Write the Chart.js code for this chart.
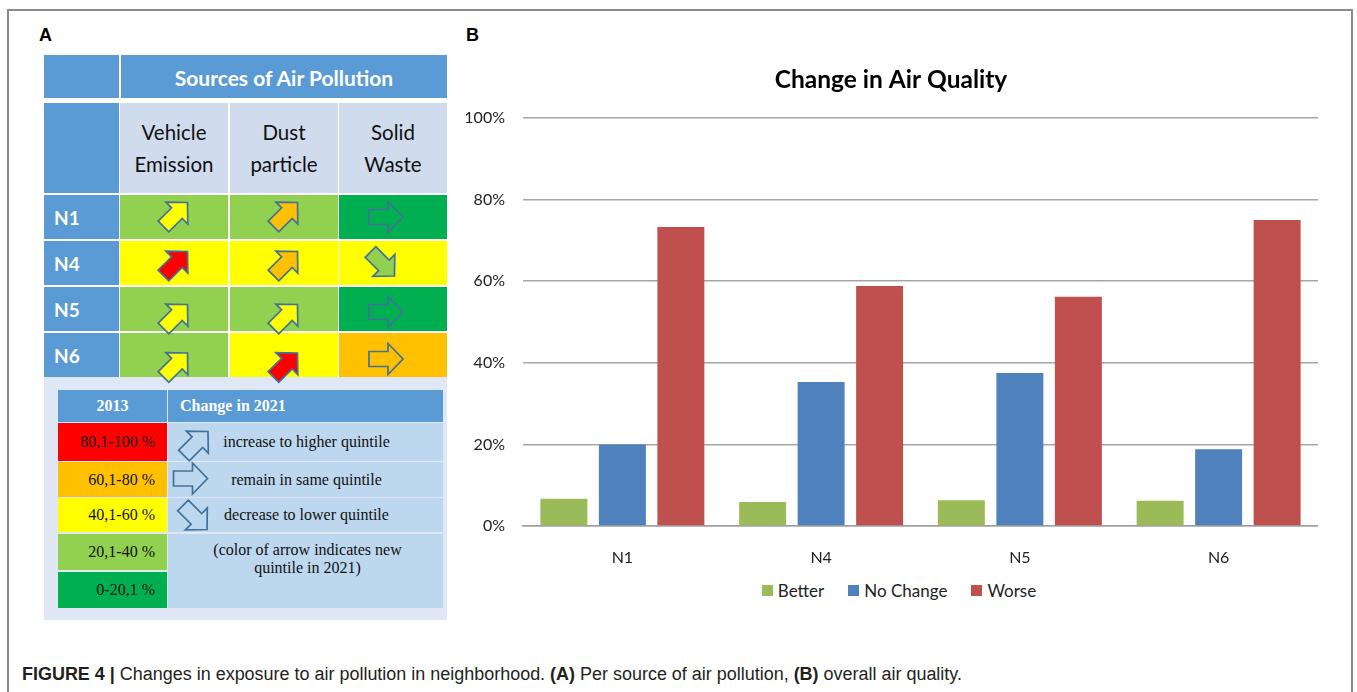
<!DOCTYPE html>
<html>
<head>
<meta charset="utf-8">
<title>Changes in exposure to air pollution in neighborhood</title>
<script src="https://cdn.jsdelivr.net/npm/chart.js@4.4.0/dist/chart.umd.min.js"></script>
<style>
  html, body { margin: 0; padding: 0; background: #fff; }
  body { width: 1357px; height: 692px; position: relative; overflow: hidden; font-family: Lato, 'Liberation Sans', sans-serif; }
  .frame { position: absolute; left: 7px; top: 9px; width: 1346px; height: 720px; border: 2px solid #8c8c8c; box-sizing: border-box; }
  .panel-label { position: absolute; font: bold 18px 'Liberation Sans', Arial, sans-serif; color: #000; }
  .cell { position: absolute; box-sizing: border-box; display: flex; align-items: center; }
  .serif { font-family: 'Liberation Serif', 'Times New Roman', serif; }
  #arrows { position: absolute; left: 0; top: 0; pointer-events: none; }
  #chartB { position: absolute; left: 464px; top: 50px; }
  #legendB { position: absolute; left: 599px; top: 578px; width: 600px; height: 24px; display: flex; justify-content: center; align-items: center; font: 17px Lato, sans-serif; color: #222; gap: 24px; }
  #legendB .item { display: flex; align-items: center; }
  #legendB .box { width: 11px; height: 11px; margin-right: 5px; }
  .caption { position: absolute; left: 22px; top: 664px; font: 18px 'Liberation Sans Narrow', 'Liberation Sans', Arial, sans-serif; color: #231f20; white-space: nowrap; transform-origin: 0 50%; }
  .caption b { font-weight: bold; }
</style>
</head>
<body>
<div class="frame"></div>
<div class="panel-label" style="left:39px;top:25px;">A</div>
<div class="panel-label" style="left:466px;top:25px;">B</div>
<div id="tableA"></div>
<svg id="arrows" width="1357" height="692"></svg>
<canvas id="chartB" width="854" height="520"></canvas>
<div id="legendB"></div>
<div class="caption" id="caption"><b>FIGURE 4 |</b> Changes in exposure to air pollution in neighborhood. <b>(A)</b> Per source of air pollution, <b>(B)</b> overall air quality.</div>

<script>
// ---------- Panel A: quintiles per source and neighborhood ----------
const sourceNames = [['Vehicle', 'Emission'], ['Dust', 'particle'], ['Solid', 'Waste']];
const neighborhoods = ['N1', 'N4', 'N5', 'N6'];
// quintile index 1..5 (1 = lowest share, 5 = highest share)
const quintile2013 = [
  [2, 2, 1],
  [3, 3, 3],
  [2, 2, 1],
  [2, 3, 4]
];
const quintile2021 = [
  [3, 4, 1],
  [5, 4, 2],
  [3, 3, 1],
  [3, 5, 4]
];
const quintileLabels = ['0-20,1 %', '20,1-40 %', '40,1-60 %', '60,1-80 %', '80,1-100 %'];
const changeKinds = ['up', 'same', 'down'];
const changeTexts = ['increase to higher quintile', 'remain in same quintile', 'decrease to lower quintile'];
const changeNote = ['(color of arrow indicates new', 'quintile in 2021)'];

// ---------- Panel B: overall change in air quality ----------
const places = ['N1', 'N4', 'N5', 'N6'];
const better = [6.7, 5.9, 6.3, 6.2];
const noChange = [20.0, 35.3, 37.5, 18.8];
const worse = [73.3, 58.8, 56.2, 75.0];
const yTickValues = [0, 20, 40, 60, 80, 100];

// ---------- styling ----------
const quintileColors = ['#00b050', '#92d050', '#ffff00', '#ffc000', '#ff0000'];
const headBlue = '#5b9bd5';
const paleBlue = '#d0dcee';
const noteBlue = '#bdd7ee';
const arrowEdge = '#41719c';

const tableA = document.getElementById('tableA');
function cell(x, y, w, h, bg, html, css, serif) {
  const d = document.createElement('div');
  d.className = serif ? 'cell serif' : 'cell';
  d.style.cssText = `left:${x}px;top:${y}px;width:${w}px;height:${h}px;background:${bg};` + (css || '');
  d.innerHTML = html || '';
  tableA.appendChild(d);
  return d;
}

// grid geometry of the source table
const colX = [120, 230, 339];
const colW = [108, 108, 108];
const rowY = [195, 241, 287, 333];
const rowH = [44, 44, 44, 45];

// header rows
cell(44, 55, 75, 43, headBlue);
cell(121, 55, 326, 43, headBlue, 'Sources of Air Pollution',
  'justify-content:center;color:#fff;font-weight:bold;font-size:21px;padding-top:2px;');
cell(44, 103, 75, 90, headBlue);
sourceNames.forEach((lines, j) => {
  cell(colX[j], 103, colW[j], 90, paleBlue, lines.join('<br>'),
    'justify-content:center;text-align:center;color:#111;font-size:20.5px;line-height:32px;');
});

// neighborhood rows
neighborhoods.forEach((n, i) => {
  cell(44, rowY[i], 75, rowH[i], headBlue, n,
    'padding-left:10px;color:#fff;font-weight:bold;font-size:19px;');
  quintile2013[i].forEach((q, j) => {
    cell(colX[j], rowY[i], colW[j], rowH[i], quintileColors[q - 1]);
  });
});

// key below the table
cell(44, 377, 403, 243, '#dfe8f4');
cell(58, 390, 109, 32, headBlue, '2013',
  'justify-content:center;color:#fff;font-weight:bold;font-size:16px;', true);
cell(168, 390, 275, 32, headBlue, 'Change in 2021',
  'padding-left:12px;color:#fff;font-weight:bold;font-size:16px;', true);
const keyRowY = [423, 462, 498, 534, 572];
const keyRowH = [38, 35, 34, 36, 36];
for (let k = 0; k < 5; k++) {
  const q = 5 - k;
  cell(58, keyRowY[k], 109, keyRowH[k], quintileColors[q - 1], quintileLabels[q - 1],
    'justify-content:flex-end;padding-right:12px;color:#111;font-size:16px;', true);
}
const keyTextY = [423, 462, 498];
const keyTextH = [38, 35, 34];
changeTexts.forEach((t, k) => {
  cell(168, keyTextY[k], 275, keyTextH[k], noteBlue, t,
    'justify-content:center;padding-left:2px;color:#111;font-size:16px;', true);
});
cell(168, 534, 275, 74, noteBlue, changeNote.join('<br>'),
  'justify-content:center;align-items:flex-start;padding-top:7px;padding-left:4px;text-align:center;color:#111;font-size:16px;line-height:18px;', true);

// block arrows
const svg = document.getElementById('arrows');
function arrowPath(kind, cx, cy, fill) {
  const base = [[-17, -7.5], [2, -7.5], [2, -15.5], [17, 0], [2, 15.5], [2, 7.5], [-17, 7.5]];
  const ang = kind === 'up' ? -Math.PI / 4 : kind === 'down' ? Math.PI / 4 : 0;
  const c = Math.cos(ang), s = Math.sin(ang);
  const pts = base.map(([x, y]) => [x * c - y * s, x * s + y * c]);
  const xs = pts.map(p => p[0]), ys = pts.map(p => p[1]);
  const mx = (Math.min(...xs) + Math.max(...xs)) / 2;
  const my = (Math.min(...ys) + Math.max(...ys)) / 2;
  const d = pts.map(([x, y]) => `${(x - mx + cx).toFixed(1)},${(y - my + cy).toFixed(1)}`).join(' ');
  const poly = document.createElementNS('http://www.w3.org/2000/svg', 'polygon');
  poly.setAttribute('points', d);
  poly.setAttribute('fill', fill);
  poly.setAttribute('stroke', arrowEdge);
  poly.setAttribute('stroke-width', '1.7');
  poly.setAttribute('stroke-linejoin', 'miter');
  svg.appendChild(poly);
}
const upShift = [0, 3, 10, 12];
const sideShift = [0, -1.5, 3, 3.5];
neighborhoods.forEach((n, i) => {
  const cy = rowY[i] + rowH[i] / 2;
  quintile2013[i].forEach((q0, j) => {
    const q1 = quintile2021[i][j];
    const kind = q1 > q0 ? 'up' : q1 < q0 ? 'down' : 'same';
    const cx = colX[j] + colW[j] / 2;
    if (kind === 'up') arrowPath(kind, cx - 1, cy + upShift[i], quintileColors[q1 - 1]);
    else if (kind === 'same') arrowPath(kind, cx - 7, cy + sideShift[i], quintileColors[q1 - 1]);
    else arrowPath(kind, cx - 13, cy + sideShift[i], quintileColors[q1 - 1]);
  });
});
const keyArrowPos = [[193.5, 446], [190.5, 478.5], [192.5, 515]];
changeKinds.forEach((k, idx) => arrowPath(k, keyArrowPos[idx][0], keyArrowPos[idx][1], noteBlue));

// ---------- Panel B chart ----------
const tickFont = { family: 'Lato', size: 16 };
const chart = new Chart(document.getElementById('chartB'), {
  type: 'bar',
  data: {
    labels: places,
    datasets: [
      { label: 'Better', data: better, backgroundColor: '#9bbb59' },
      { label: 'No Change', data: noChange, backgroundColor: '#4f81bd' },
      { label: 'Worse', data: worse, backgroundColor: '#c0504d' }
    ]
  },
  options: {
    responsive: false,
    animation: false,
    devicePixelRatio: 1,
    layout: { padding: { top: 0, left: 0, right: 0, bottom: 2 } },
    datasets: { bar: { categoryPercentage: 0.883, barPercentage: 0.803 } },
    plugins: {
      title: {
        display: true,
        text: 'Change in Air Quality',
        color: '#000',
        font: { family: 'Lato', size: 24.5, weight: 'bold' },
        padding: { top: 15.3, bottom: 23.3 }
      },
      legend: { display: false },
      tooltip: { enabled: false }
    },
    scales: {
      x: {
        grid: { display: false, drawTicks: false },
        border: { color: '#a0a0a0', width: 1.5 },
        ticks: { color: '#222', font: tickFont, padding: 22.4 },
        afterFit: s => { s.height = 42; }
      },
      y: {
        min: 0, max: 100,
        afterBuildTicks: s => { s.ticks = yTickValues.map(v => ({ value: v })); },
        ticks: { color: '#222', font: tickFont, padding: 18, callback: v => v + '%' },
        grid: { color: '#a6a6a6', lineWidth: 1.5, drawTicks: false },
        border: { display: false },
        afterFit: s => { s.width = 59; }
      }
    }
  }
});

// series key under the chart, built from the chart's datasets
const legendB = document.getElementById('legendB');
chart.data.datasets.forEach(ds => {
  const item = document.createElement('div');
  item.className = 'item';
  item.innerHTML = `<span class="box" style="background:${ds.backgroundColor}"></span><span>${ds.label}</span>`;
  legendB.appendChild(item);
});

// fit the caption to the figure's text width
const cap = document.getElementById('caption');
const capW = cap.getBoundingClientRect().width;
cap.style.transform = `scaleX(${(940 / capW).toFixed(4)})`;
</script>
</body>
</html>
